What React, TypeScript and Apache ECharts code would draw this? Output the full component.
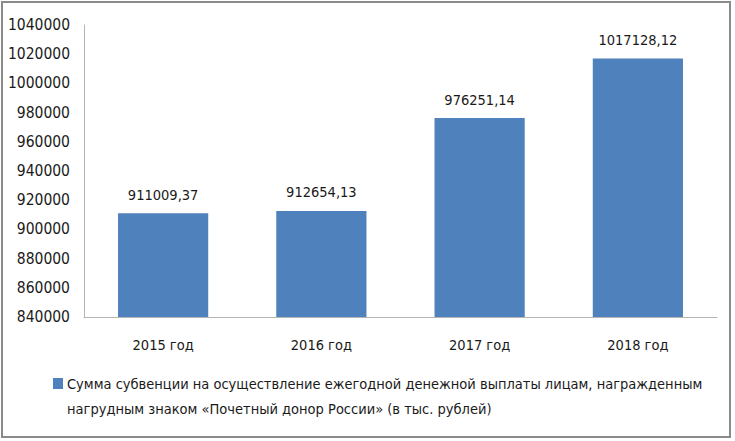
import React, { useEffect, useRef } from "react";
import * as echarts from "echarts";

const categories = ["2015 год", "2016 год", "2017 год", "2018 год"];
const values = [911009.37, 912654.13, 976251.14, 1017128.12];
const seriesName =
  "Сумма субвенции на осуществление ежегодной денежной выплаты лицам, награжденным\nнагрудным знаком «Почетный донор России» (в тыс. рублей)";

const FONT = "'DejaVu Sans Condensed', sans-serif";
const INK = "#1a1a1a";

export default function App() {
  const ref = useRef<HTMLDivElement>(null);
  useEffect(() => {
    if (!ref.current) return;
    const chart = echarts.init(ref.current, undefined, { renderer: "svg" });
    chart.setOption({
      animation: false,
      backgroundColor: "#ffffff",
      textStyle: { fontFamily: FONT },
      graphic: [
        {
          type: "rect",
          shape: { x: 2, y: 2, width: 728, height: 435 },
          style: { fill: "none", stroke: "#8a8a8a", lineWidth: 2 },
          silent: true,
        },
        {
          type: "rect",
          shape: { x: 53, y: 378, width: 10, height: 11 },
          style: { fill: "#4f81bd" },
          silent: true,
        },
        {
          type: "text",
          x: 67,
          y: 371.5,
          style: {
            text: seriesName,
            fill: INK,
            font: `14.5px ${FONT}`,
            lineHeight: 25,
            verticalAlign: "top",
            align: "left",
          },
          silent: true,
        },
      ],
      grid: { left: 84, right: 18, top: 25, bottom: 124 },
      xAxis: {
        type: "category",
        data: categories,
        axisLine: { show: true, lineStyle: { color: "#b4b4b4", width: 1 } },
        axisTick: { show: false },
        axisLabel: { color: INK, fontSize: 14.5, margin: 20, fontFamily: FONT },
      },
      yAxis: {
        type: "value",
        min: 840000,
        max: 1040000,
        interval: 20000,
        splitLine: { show: false },
        axisLine: { show: true, lineStyle: { color: "#b4b4b4", width: 1 } },
        axisTick: { show: false },
        axisLabel: {
          color: INK,
          fontSize: 15.5,
          margin: 14,
          fontFamily: FONT,
          formatter: (v: number) => String(v),
        },
      },
      legend: { show: false },
      series: [
        {
          type: "bar",
          name: seriesName,
          data: values,
          barWidth: "57%",
          itemStyle: { color: "#4f81bd" },
          label: {
            show: true,
            position: "top",
            distance: 11,
            color: INK,
            fontSize: 14.5,
            fontFamily: FONT,
            formatter: (p: any) => p.value.toFixed(2).replace(".", ","),
          },
        },
      ],
    });
    return () => chart.dispose();
  }, []);
  return (
    <div
      ref={ref}
      style={{ position: "fixed", left: 0, top: 0, width: 735, height: 441 }}
    />
  );
}
